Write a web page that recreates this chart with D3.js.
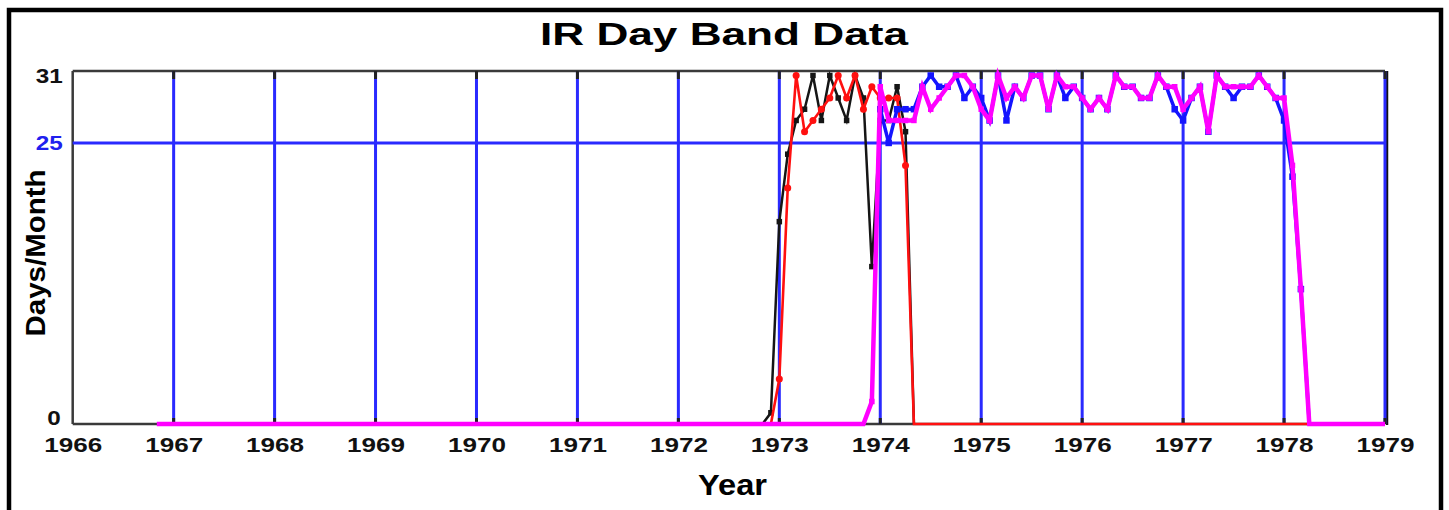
<!DOCTYPE html>
<html>
<head>
<meta charset="utf-8">
<script src="https://cdn.jsdelivr.net/npm/d3@7"></script>
<style>
  html, body { margin: 0; padding: 0; background: #fff; }
  svg { display: block; }
</style>
</head>
<body>
<svg id="chart" width="1449" height="510"></svg>
<script>
// ---------- data ----------
const chartTitle = "IR Day Band Data";
const xTitle = "Year";
const yTitle = "Days/Month";
const yearTicks = [1966, 1967, 1968, 1969, 1970, 1971, 1972, 1973, 1974, 1975, 1976, 1977, 1978, 1979];
const yTicks = [0, 25, 31];

// monthly values (days per month), first entry = [year, month] start
const blackStart = [1972, 11];
const blackDays = [
  0, 1,                                        // 1972 Nov-Dec
  18, 24, 27, 28, 31, 27, 31, 29, 27, 31, 29, 14, // 1973
  27, 27, 30, 26, 0                             // 1974 Jan-May
];

const redStart = [1972, 12];
const redDays = [
  0,                                           // 1972 Dec
  4, 21, 31, 26, 27, 28, 29, 31, 29, 31, 28, 30, // 1973
  29, 29, 29, 23, 0, 0, 0, 0, 0, 0, 0, 0,       // 1974
  0, 0, 0, 0, 0, 0, 0, 0, 0, 0, 0, 0,           // 1975
  0, 0, 0, 0, 0, 0, 0, 0, 0, 0, 0, 0,           // 1976
  0, 0, 0, 0, 0, 0, 0, 0, 0, 0, 0, 0,           // 1977
  0, 0, 0, 0                                    // 1978 Jan-Apr
];

const blueStart = [1974, 1];
const blueDays = [
  28, 25, 28, 28, 28, 30, 31, 30, 30, 31, 29, 30, // 1974
  29, 27, 31, 27, 30, 29, 31, 31, 28, 31, 29, 30, // 1975
  29, 28, 29, 28, 31, 30, 30, 29, 29, 31, 30, 28, // 1976
  27, 29, 30, 26, 31, 30, 29, 30, 30, 31, 30, 29, // 1977
  27, 22, 12, 0                                   // 1978 Jan-Apr
];

const magentaStart = [1966, 11];
const magentaDays = [
  0, 0,                                         // 1966 Nov-Dec
  0, 0, 0, 0, 0, 0, 0, 0, 0, 0, 0, 0,           // 1967
  0, 0, 0, 0, 0, 0, 0, 0, 0, 0, 0, 0,           // 1968
  0, 0, 0, 0, 0, 0, 0, 0, 0, 0, 0, 0,           // 1969
  0, 0, 0, 0, 0, 0, 0, 0, 0, 0, 0, 0,           // 1970
  0, 0, 0, 0, 0, 0, 0, 0, 0, 0, 0, 0,           // 1971
  0, 0, 0, 0, 0, 0, 0, 0, 0, 0, 0, 0,           // 1972
  0, 0, 0, 0, 0, 0, 0, 0, 0, 0, 0, 2,           // 1973
  30, 27, 27, 27, 27, 30, 28, 29, 30, 31, 31, 30, // 1974
  28, 27, 31, 29, 30, 29, 31, 31, 28, 31, 30, 30, // 1975
  29, 28, 29, 28, 31, 30, 30, 29, 29, 31, 30, 30, // 1976
  28, 29, 30, 26, 31, 30, 30, 30, 30, 31, 30, 29, // 1977
  29, 23, 12, 0, 0, 0, 0, 0, 0, 0, 0, 0,        // 1978
  0                                             // 1979 Jan
];

// ---------- setup ----------
const svg = d3.select("#chart");
const FONT = "'Liberation Sans', Arial, sans-serif";

const x = d3.scaleLinear().domain([1966, 1979]).range([72.7, 1385]);
const y = d3.scaleLinear().domain([0, 31.4]).range([424, 71]);

function toPoints(start, values) {
  const [sy, sm] = start;
  return values.map((v, i) => ({ t: sy + (sm - 1 + i) / 12, v }));
}

// outer border
svg.append("rect")
  .attr("x", 9).attr("y", 10).attr("width", 1432).attr("height", 520)
  .attr("fill", "none").attr("stroke", "#000").attr("stroke-width", 4.5);

// title
svg.append("text")
  .attr("x", 724).attr("y", 45)
  .attr("text-anchor", "middle")
  .attr("font-family", FONT).attr("font-weight", "bold").attr("font-size", 32)
  .attr("textLength", 368).attr("lengthAdjust", "spacingAndGlyphs")
  .text(chartTitle);

// plot frame
const frame = svg.append("g");
frame.append("line").attr("x1", x(1966)).attr("x2", x(1979)).attr("y1", y.range()[1]).attr("y2", y.range()[1])
  .attr("stroke", "#3a3a3a").attr("stroke-width", 2.5);
frame.append("line").attr("x1", x(1966)).attr("x2", x(1966)).attr("y1", y.range()[1]).attr("y2", y(0))
  .attr("stroke", "#3a3a3a").attr("stroke-width", 2.5);
frame.append("line").attr("x1", x(1966)).attr("x2", x(1979)).attr("y1", y(0)).attr("y2", y(0))
  .attr("stroke", "#3a3a3a").attr("stroke-width", 2.5);
frame.append("line").attr("x1", x(1979) + 2).attr("x2", x(1979) + 2).attr("y1", y.range()[1]).attr("y2", y(0) + 1)
  .attr("stroke", "#111").attr("stroke-width", 2.5);

// grid lines (blue)
const gridYears = yearTicks.filter(d => d > 1966);
svg.append("g").selectAll("line").data(gridYears).join("line")
  .attr("x1", d => x(d)).attr("x2", d => x(d))
  .attr("y1", y.range()[1]).attr("y2", y(0))
  .attr("stroke", "#2a2aff").attr("stroke-width", 3);
svg.append("line")
  .attr("x1", x(1966)).attr("x2", x(1979)).attr("y1", y(25)).attr("y2", y(25))
  .attr("stroke", "#2a2aff").attr("stroke-width", 3);

// black tick stubs at top and bottom of grid lines
const stubs = svg.append("g");
stubs.selectAll("line.top").data(gridYears).join("line").attr("class", "top")
  .attr("x1", d => x(d)).attr("x2", d => x(d))
  .attr("y1", y.range()[1]).attr("y2", y.range()[1] + 8)
  .attr("stroke", "#222").attr("stroke-width", 3);
stubs.selectAll("line.bot").data(gridYears).join("line").attr("class", "bot")
  .attr("x1", d => x(d)).attr("x2", d => x(d))
  .attr("y1", y(0) - 6).attr("y2", y(0))
  .attr("stroke", "#222").attr("stroke-width", 3);

// axes
const xAxis = d3.axisBottom(x).tickValues(yearTicks).tickFormat(d3.format("d")).tickSize(0);
const gx = svg.append("g").attr("transform", `translate(0,${y(0)})`).call(xAxis);
gx.select(".domain").remove();
gx.selectAll("text")
  .attr("y", 27.7).attr("dy", null)
  .attr("font-family", FONT).attr("font-weight", "bold").attr("font-size", 21)
  .attr("fill", "#111")
  .attr("textLength", 58).attr("lengthAdjust", "spacingAndGlyphs");

const yAxis = d3.axisLeft(y).tickValues(yTicks).tickFormat(d3.format("d")).tickSize(0);
const gy = svg.append("g").attr("transform", `translate(${x(1966)},0)`).call(yAxis);
gy.select(".domain").remove();
gy.selectAll("text")
  .attr("x", d => d === 0 ? -12 : -10)
  .attr("y", d => d === 0 ? -6 : 0)
  .attr("dy", "0.33em")
  .attr("font-family", FONT).attr("font-weight", "bold").attr("font-size", 21)
  .attr("fill", d => d === 25 ? "#2020ee" : "#111")
  .attr("textLength", d => String(d).length * 13.5).attr("lengthAdjust", "spacingAndGlyphs");

// axis titles
svg.append("text")
  .attr("x", 732.5).attr("y", 495)
  .attr("text-anchor", "middle")
  .attr("font-family", FONT).attr("font-weight", "bold").attr("font-size", 30)
  .attr("textLength", 69).attr("lengthAdjust", "spacingAndGlyphs")
  .text(xTitle);
svg.append("text")
  .attr("transform", "translate(45,253) rotate(-90)")
  .attr("text-anchor", "middle")
  .attr("font-family", FONT).attr("font-weight", "bold").attr("font-size", 28)
  .attr("textLength", 167).attr("lengthAdjust", "spacingAndGlyphs")
  .text(yTitle);

// series
const line = d3.line().x(d => x(d.t)).y(d => y(d.v));

function drawSeries(points, color, width, marker, msize) {
  const g = svg.append("g");
  g.append("path").datum(points)
    .attr("d", line).attr("fill", "none")
    .attr("stroke", color).attr("stroke-width", width)
    .attr("stroke-linejoin", "miter");
  const pts = points.filter(d => d.v > 0);
  if (marker === "circle") {
    g.selectAll("circle").data(pts).join("circle")
      .attr("cx", d => x(d.t)).attr("cy", d => y(d.v)).attr("r", msize)
      .attr("fill", color);
  } else if (marker === "square") {
    g.selectAll("rect").data(pts).join("rect")
      .attr("x", d => x(d.t) - msize / 2).attr("y", d => y(d.v) - msize / 2)
      .attr("width", msize).attr("height", msize)
      .attr("fill", color);
  }
}

drawSeries(toPoints(blackStart, blackDays), "#151515", 2.5, "square", 5.5);
drawSeries(toPoints(redStart, redDays), "#ff1010", 2.6, "circle", 3.5);
drawSeries(toPoints(blueStart, blueDays), "#1414ff", 3.5, "square", 6.5);
drawSeries(toPoints(magentaStart, magentaDays), "#ff00ff", 4.5, "square", 5.5);
</script>
</body>
</html>
